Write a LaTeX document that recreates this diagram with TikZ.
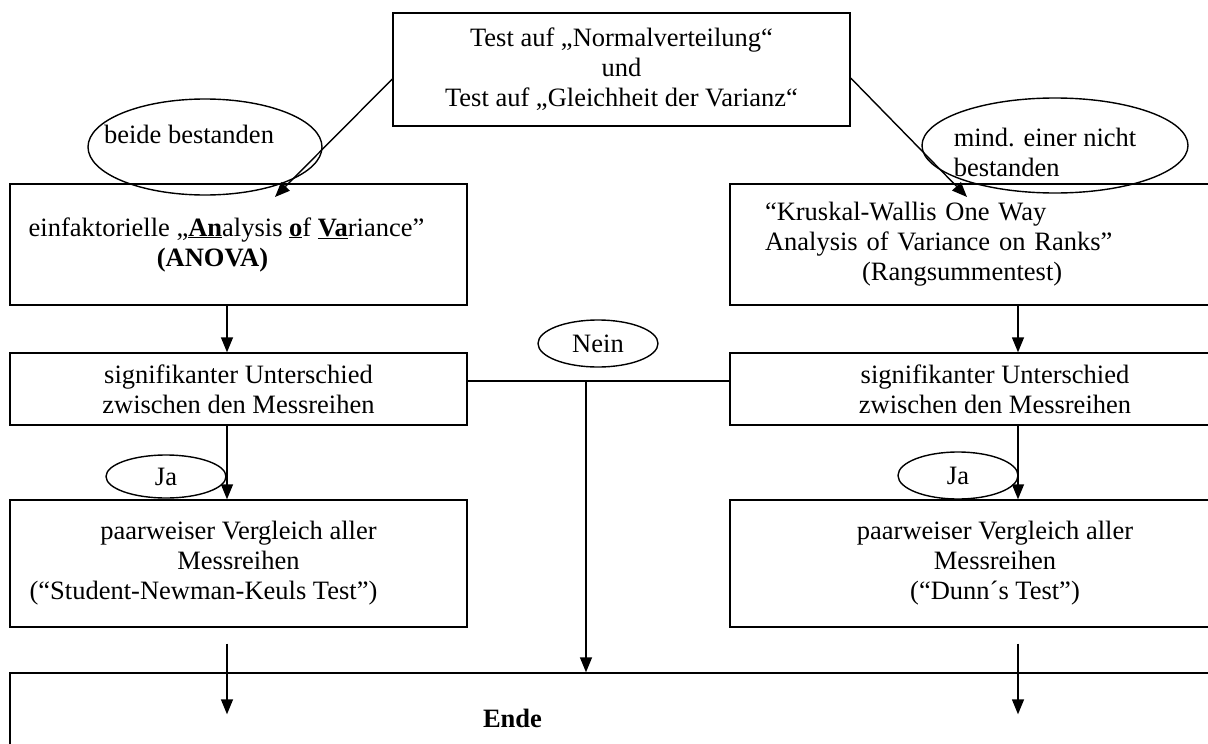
\documentclass[tikz,border=0pt]{standalone}
\usepackage{fontspec}
\setmainfont{Liberation Serif}
\usetikzlibrary{arrows.meta, shapes.geometric, calc}
\tikzset{> = {Triangle[length = 15pt, width = 12pt]}}
\tikzset{
	box/.style = {draw, rectangle, inner sep = 0pt, align = center},
	oval/.style = {draw, ellipse, inner sep = 0pt},
}

\begin{document}
\begin{tikzpicture}[x = 1pt, y = -1pt, line width = 1.4pt,
		every node/.style = {font = \fontsize{26.5}{30}\selectfont}]
	\useasboundingbox (0, 0) rectangle (1208, 744);
	\clip (0, 0) rectangle (1208, 744);

	\node [box, minimum width = 457pt, minimum height = 113pt] (tests) at (621.5, 69.5) {Test auf „Normalverteilung“\\und\\Test auf „Gleichheit der Varianz“};

	\node [box, minimum width = 457pt, minimum height = 121pt] (anova) at (238.5, 244.5) {einfaktorielle „\underline{\textbf{An}}alysis \underline{\textbf{o}}f \underline{\textbf{Va}}riance”\hspace*{24pt}\\\textbf{(ANOVA)}\hspace*{52pt}};
	\node [box, text width = 460pt, align = left, inner xsep = 35pt, minimum height = 121pt] (kruskal) at (995, 244.5) {“Kruskal-Wallis One Way\\Analysis of Variance on Ranks”\\\hspace*{97pt}(Rangsummentest)};

	\node [box, minimum width = 457pt, minimum height = 72pt] (sigL) at (238.5, 389) {signifikanter Unterschied\\zwischen den Messreihen};
	\node [box, minimum width = 530pt, minimum height = 72pt] (sigR) at (995, 389) {signifikanter Unterschied\\zwischen den Messreihen};

	\node [box, minimum width = 457pt, minimum height = 127pt] (snk) at (238.5, 563.5) {paarweiser Vergleich aller\\Messreihen\\(“Student-Newman-Keuls Test”)\hspace*{70pt}};
	\node [box, minimum width = 530pt, minimum height = 127pt] (dunn) at (995, 563.5) {paarweiser Vergleich aller\\Messreihen\\(“Dunn´s Test”)};

	\node [box, minimum width = 1250pt, minimum height = 107pt, label = {[xshift = -122.5pt, yshift = 8pt]center:\textbf{Ende}}] (ende) at (635, 726.5) {};

	\node [oval, minimum width = 234pt, minimum height = 96pt, label = {[xshift = -16pt, yshift = 13pt]center:beide bestanden}] (beide) at (205, 147) {};
	\node [oval, minimum width = 266pt, minimum height = 95pt, label = {[align = left, xshift = -10pt, yshift = -6.5pt]center:mind. einer nicht\\bestanden}] (mind) at (1055, 145.5) {};
	\node [oval, minimum width = 120pt, minimum height = 47pt] (nein) at (598, 343.5) {Nein};
	\node [oval, minimum width = 120pt, minimum height = 43pt] (jaL) at (166, 476.5) {Ja};
	\node [oval, minimum width = 120pt, minimum height = 47pt] (jaR) at (958, 475.5) {Ja};

	\coordinate (colL) at (227, 0);
	\coordinate (colR) at (1018, 0);
	\coordinate (anovaIn) at (275, 197);
	\coordinate (kruskalIn) at (967, 197);
	\coordinate (split) at (586, 381);

	\draw [->] ([yshift = -9.5pt]tests.west) -- (anovaIn);
	\draw [->] ([yshift = -8.5pt]tests.east) -- (kruskalIn);
	\draw [->] (colL |- anova.south) -- (colL |- sigL.north);
	\draw [->] (colR |- kruskal.south) -- (colR |- sigR.north);
	\draw [->] (colL |- sigL.south) -- (colL |- snk.north);
	\draw [->] (colR |- sigR.south) -- (colR |- dunn.north);
	\draw ([yshift = 8pt]sigL.east) -- ([yshift = 8pt]sigR.west);
	\draw [->] (split) -- (split |- ende.north);
	\draw [->] ($(colL |- snk.south) + (0, 16)$) -- ($(colL |- ende.north) + (0, 42)$);
	\draw [->] ($(colR |- dunn.south) + (0, 16)$) -- ($(colR |- ende.north) + (0, 42)$);
\end{tikzpicture}
\end{document}
